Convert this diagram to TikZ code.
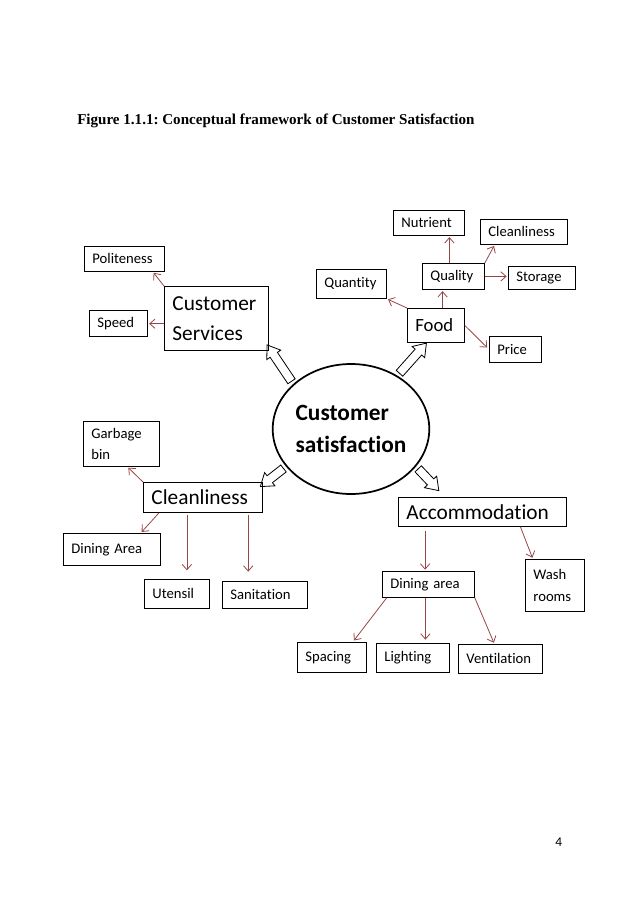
\documentclass[tikz,border=0pt]{standalone}
\usepackage{fontspec}
\setmainfont{Carlito}[Ligatures={NoCommon,NoContextual}]
\newfontfamily\captionfont{Liberation Serif}
\usepackage{xcolor}
\usetikzlibrary{arrows.meta, shapes.geometric, shapes.arrows, calc, backgrounds}
\definecolor{linkred}{RGB}{150,70,70}
\frenchspacing

\begin{document}
\begin{tikzpicture}[
    x=0.75pt, y=-0.75pt,
    box/.style={rectangle, draw=black, line width=0.6pt, anchor=north west,
                align=left, inner xsep=6pt, inner ysep=0pt,
                font=\fontsize{11}{16}\selectfont},
    bigbox/.style={box, font=\fontsize{16}{22.5}\selectfont},
    link/.style={-{Straight Barb[length=4pt,width=7pt]}, line width=0.6pt,
                 draw=linkred, shorten >=1pt},
    hollow/.style={single arrow, draw=black, fill=white, line width=0.6pt,
                   inner xsep=0pt, inner ysep=3pt, single arrow head extend=3pt,
                   single arrow tip angle=70, midway, sloped, allow upside down}
]
\useasboundingbox (0,0) rectangle (638,903);

% caption and page number
\node[anchor=base west, inner sep=0pt, font=\captionfont\bfseries\fontsize{11.3}{14}\selectfont]
    (caption) at (77,124) {Figure 1.1.1: Conceptual framework of Customer Satisfaction};
\node[anchor=base west, inner sep=0pt, font=\fontsize{10}{12}\selectfont] (pagenum) at (555,846) {4};

% Customer satisfaction
\node[ellipse, draw, line width=1.3pt, minimum width=117pt, minimum height=97.5pt,
      inner sep=0pt, align=left, font=\bfseries\fontsize{17.5}{24}\selectfont]
    (sat) at (351,429) {Customer\\satisfaction};

% Customer services
\node[bigbox, text width=66pt, minimum height=48pt] (serv) at (164,286) {Customer\\Services};
\node[box, text width=48pt, minimum height=18.75pt] (polite) at (84,246) {Politeness};
\node[box, text width=31.5pt, minimum height=19.5pt] (speed) at (89,310) {Speed};
\draw[link] (serv.north west) -- ([xshift=-9pt]polite.south east);
\draw[link] ([yshift=-4pt]serv.west) -- ([yshift=-4pt]serv.west -| speed.east);

% Food
\node[box, text width=30.75pt, minimum height=25.5pt, font=\fontsize{14}{17}\selectfont]
    (food) at (407,308) {Food};
\node[box, text width=40.5pt, minimum height=21.75pt] (quantity) at (316,269) {Quantity};
\node[box, text width=34.5pt, minimum height=19.5pt] (quality) at (422,263) {Quality};
\node[box, text width=41.25pt, minimum height=18.75pt] (nutrient) at (393,210) {Nutrient};
\node[box, text width=53.25pt, minimum height=18.75pt] (foodclean) at (480,219) {Cleanliness};
\node[box, text width=38.25pt, minimum height=17.25pt] (storage) at (508,266) {Storage};
\node[box, text width=27pt, minimum height=19.5pt] (price) at (489,336) {Price};
\draw[link] (food.north west) -- (quantity.south east);
\draw[link] ([xshift=5pt]food.north) -- ([xshift=5pt]food.north |- quality.south);
\draw[link] ([xshift=-3pt]quality.north) -- ([xshift=-3pt]quality.north |- nutrient.south);
\draw[link] (quality.north east) -- ([xshift=11pt]foodclean.south west);
\draw[link] (quality.east) -- (quality.east -| storage.west);
\draw[link, shorten >=2pt] (food.east) -- (price.west);

% Cleanliness
\node[bigbox, text width=77.25pt, minimum height=22.5pt] (clean) at (143,482) {Cleanliness};
\node[box, text width=45pt, minimum height=33.75pt] (garbage) at (83,421) {Garbage\\bin};
\node[box, text width=60.75pt, minimum height=24pt] (diningarea) at (63,533) {Dining Area};
\node[box, text width=36.75pt, minimum height=21.75pt] (utensil) at (144,579) {Utensil};
\node[box, text width=51.75pt, minimum height=20.25pt] (sanit) at (222,581) {Sanitation};
\draw[link] (clean.north west) -- ([xshift=4.5pt]garbage.south);
\draw[link] ([xshift=12pt]clean.south west) -- ([xshift=-15pt]diningarea.north east);
\draw[link, shorten <=1.5pt, shorten >=6.5pt] ([xshift=-12pt]clean.south) -- ([xshift=-12pt]clean.south |- utensil.north);
\draw[link, shorten <=1.5pt, shorten >=7pt] ([xshift=34pt]clean.south) -- ([xshift=34pt]clean.south |- sanit.north);

% Accommodation
\node[bigbox, text width=114pt, minimum height=21.75pt] (accom) at (398,497) {Accommodation};
\node[box, text width=57pt, minimum height=19.5pt] (dining) at (382,571) {Dining area};
\node[box, text width=32.25pt, minimum height=39pt] (wash) at (525,559) {Wash\\rooms};
\node[box, text width=39.75pt, minimum height=22.5pt] (spacing) at (297,642) {Spacing};
\node[box, text width=42.75pt, minimum height=21.75pt] (lighting) at (376,643) {Lighting};
\node[box, text width=51pt, minimum height=21.75pt] (ventil) at (458,644) {Ventilation};
\draw[link, shorten <=3pt] ([xshift=-43pt]accom.south) -- ([xshift=-43pt]accom.south |- dining.north);
\draw[link] ([xshift=28.5pt]accom.south) -- ([xshift=-16.5pt]wash.north);
\draw[link, shorten >=1.5pt] ([xshift=3.5pt]dining.south west) -- ([xshift=-10.5pt]spacing.north east);
\draw[link, shorten >=2.5pt] ([xshift=-2.25pt]dining.south) -- ([xshift=-2.25pt]dining.south |- lighting.north);
\draw[link] (dining.south east) -- ([xshift=-4.5pt]ventil.north);

% hollow arrows out of the ellipse
\begin{scope}[on background layer]
\path let \p1=(sat.142), \p2=([yshift=2.5pt]serv.south east), \n1={veclen(\x2-\x1,\y2-\y1)}
    in (\p1) -- (\p2) node[hollow, minimum height=\n1] (toserv) {};
\path let \p1=(sat.49), \p2=([xshift=13pt,yshift=-2pt]food.south west), \n1={veclen(\x2-\x1,\y2-\y1)}
    in (\p1) -- (\p2) node[hollow, minimum height=\n1] (tofood) {};
\path let \p1=(sat.210), \p2=([yshift=-2pt]clean.north east), \n1={veclen(\x2-\x1,\y2-\y1)}
    in (\p1) -- (\p2) node[hollow, minimum height=\n1] (toclean) {};
\path let \p1=(sat.330), \p2=([xshift=29pt,yshift=6.5pt]accom.north west), \n1={veclen(\x2-\x1,\y2-\y1)}
    in (\p1) -- (\p2) node[hollow, minimum height=\n1] (toaccom) {};
\end{scope}

\end{tikzpicture}
\end{document}
